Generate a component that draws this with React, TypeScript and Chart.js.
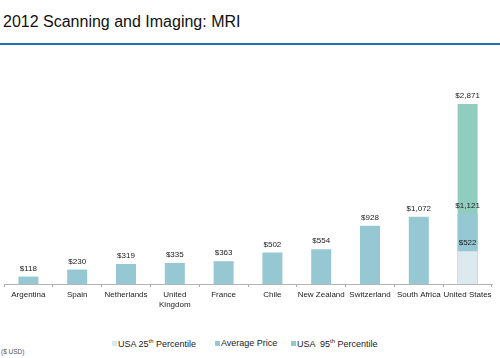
import React, { useEffect, useRef } from "react";
import { Chart, registerables } from "chart.js";

Chart.register(...registerables);

const categories: (string | string[])[] = [
  "Argentina",
  "Spain",
  "Netherlands",
  ["United", "Kingdom"],
  "France",
  "Chile",
  "New Zealand",
  "Switzerland",
  "South Africa",
  "United States",
];
const averagePrice = [118, 230, 319, 335, 363, 502, 554, 928, 1072, 1121];
const usa25th = [null, null, null, null, null, null, null, null, null, 522];
const usa95th = [null, null, null, null, null, null, null, null, null, 2871];

const FONT = "'Liberation Sans', Arial, Helvetica, sans-serif";
const C_AVG = "#95c8d3";
const C_25 = "#dceaf0";
const C_95 = "#90cdbf";

const fmt = (v: number) => "$" + v.toLocaleString("en-US");

const valueLabels = {
  id: "valueLabels",
  afterDatasetsDraw(chart: any) {
    const ctx = chart.ctx;
    ctx.save();
    ctx.font = `8px ${FONT}`;
    ctx.fillStyle = "#222";
    ctx.textAlign = "center";
    ctx.textBaseline = "bottom";
    chart.data.datasets.forEach((ds: any, di: number) => {
      const meta = chart.getDatasetMeta(di);
      meta.data.forEach((el: any, i: number) => {
        const v = ds.data[i];
        if (v == null) return;
        ctx.fillText(fmt(v), el.x, el.y - 4);
      });
    });
    ctx.restore();
  },
};

export default function App() {
  const ref = useRef<HTMLCanvasElement | null>(null);
  useEffect(() => {
    document.body.style.margin = "0";
    const chart = new Chart(ref.current!, {
      type: "bar",
      data: {
        labels: categories,
        datasets: [
          {
            label: "USA 25th Percentile",
            data: usa25th,
            backgroundColor: C_25,
            grouped: false,
            order: 1,
            barPercentage: 0.41,
            categoryPercentage: 1,
          },
          {
            label: "Average Price",
            data: averagePrice,
            backgroundColor: C_AVG,
            grouped: false,
            order: 2,
            barPercentage: 0.41,
            categoryPercentage: 1,
          },
          {
            label: "USA 95th Percentile",
            data: usa95th,
            backgroundColor: C_95,
            grouped: false,
            order: 3,
            barPercentage: 0.41,
            categoryPercentage: 1,
          },
        ] as any,
      },
      options: {
        animation: false,
        responsive: false,
        maintainAspectRatio: false,
        layout: { padding: { left: 4, right: 8, top: 0, bottom: 0 } },
        plugins: { legend: { display: false }, tooltip: { enabled: false } },
        scales: {
          x: {
            grid: {
              drawOnChartArea: false,
              drawTicks: true,
              tickLength: 3,
              color: "#aaaaaa",
              offset: true,
            },
            border: { color: "#b5b5b5", width: 1 },
            ticks: {
              font: { family: FONT, size: 8 },
              color: "#222",
              padding: 3,
              maxRotation: 0,
              autoSkip: false,
            },
            afterFit: (scale: any) => {
              scale.height = 36;
            },
          },
          y: {
            display: false,
            min: 0,
            max: 3730,
          },
        },
      },
      plugins: [valueLabels],
    });
    return () => chart.destroy();
  }, []);

  const legendItem = (left: number, color: string, content: React.ReactNode) => (
    <div
      style={{
        position: "absolute",
        left,
        top: 337,
        height: 12,
        display: "flex",
        alignItems: "center",
        fontSize: 9,
        color: "#222",
        whiteSpace: "pre",
      }}
    >
      <span style={{ display: "inline-block", width: 5, height: 5, background: color, marginRight: 1 }} />
      <span>{content}</span>
    </div>
  );

  return (
    <div style={{ position: "relative", width: 500, height: 358, fontFamily: FONT, background: "#fff" }}>
      <div style={{ position: "absolute", left: 3, top: 12, fontSize: 16, color: "#111", lineHeight: "20px" }}>
        2012 Scanning and Imaging: MRI
      </div>
      <div style={{ position: "absolute", left: 0, top: 43, width: 500, height: 2, background: "#1f72b4" }} />
      <canvas ref={ref} width={500} height={270} style={{ position: "absolute", left: 0, top: 50 }} />
      {legendItem(112, C_25, <>USA 25<sup style={{ fontSize: 6 }}>th</sup> Percentile</>)}
      {legendItem(215, C_AVG, <>Average Price</>)}
      {legendItem(291, C_95, <>USA  95<sup style={{ fontSize: 6 }}>th</sup> Percentile</>)}
      <div style={{ position: "absolute", left: 1, top: 348, fontSize: 6.5, color: "#555" }}>($ USD)</div>
    </div>
  );
}
